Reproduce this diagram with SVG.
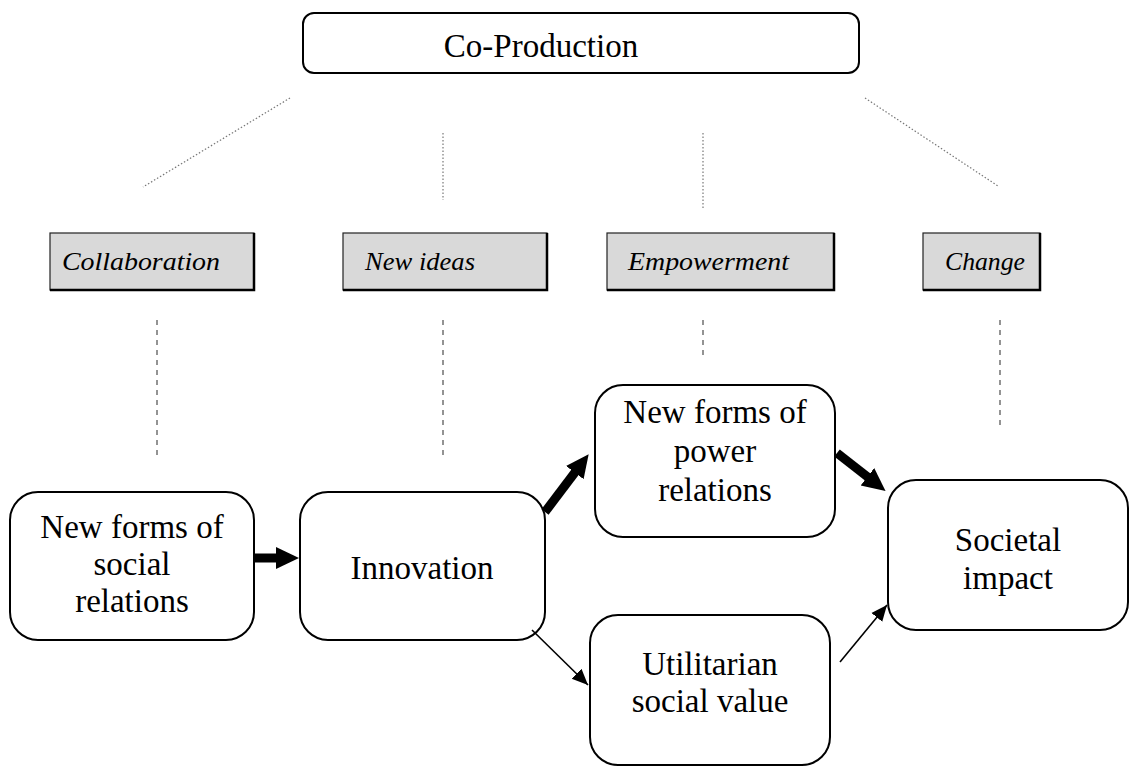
<svg xmlns="http://www.w3.org/2000/svg" width="1130" height="767" viewBox="0 0 1130 767">
<style>
.box{fill:#fff;stroke:#000;stroke-width:2}
.tag{fill:#d9d9d9;stroke:#222;stroke-width:1.2}
.shadow{fill:none;stroke:#000;stroke-width:2.5}
.big{font-family:"Liberation Serif","Times New Roman",serif;font-size:33px;fill:#000;text-anchor:middle}
.lbl{font-family:"Liberation Serif","Times New Roman",serif;font-style:italic;font-size:25px;fill:#000}
.dot{stroke:#777;stroke-width:1.2;stroke-dasharray:1.5 2;fill:none}
.dash{stroke:#888;stroke-width:1.8;stroke-dasharray:5 5;fill:none}
.thick{stroke:#000;stroke-width:9;fill:none}
.thin{stroke:#000;stroke-width:1.6;fill:none}
</style>
<defs>
<marker id="bigHead" markerUnits="userSpaceOnUse" markerWidth="26" markerHeight="26" refX="2" refY="12" orient="auto" viewBox="0 0 26 24">
<path d="M0,1 L23,12 L0,23 z" fill="#000"/>
</marker>
<marker id="smallHead" markerUnits="userSpaceOnUse" markerWidth="18" markerHeight="16" refX="16" refY="7" orient="auto" viewBox="0 0 18 14">
<path d="M0,0 L16,7 L0,14 z" fill="#000"/>
</marker>
</defs>

<g id="coproduction">
<rect class="box" x="303" y="13" width="556" height="60" rx="11"/>
<text class="big" x="541" y="57">Co-Production</text>
</g>

<g id="collaboration">
<rect class="tag" x="50" y="233" width="204" height="57"/>
<polyline class="shadow" points="254,233 254,290 50,290"/>
<text class="lbl" x="62" y="270" textLength="158" lengthAdjust="spacingAndGlyphs">Collaboration</text>
</g>
<g id="newideas">
<rect class="tag" x="343" y="233" width="204" height="57"/>
<polyline class="shadow" points="547,233 547,290 343,290"/>
<text class="lbl" x="365" y="270" textLength="110" lengthAdjust="spacingAndGlyphs">New ideas</text>
</g>
<g id="empowerment">
<rect class="tag" x="607" y="233" width="227" height="57"/>
<polyline class="shadow" points="834,233 834,290 607,290"/>
<text class="lbl" x="628" y="270" textLength="161" lengthAdjust="spacingAndGlyphs">Empowerment</text>
</g>
<g id="change">
<rect class="tag" x="923" y="233" width="117" height="57"/>
<polyline class="shadow" points="1040,233 1040,290 923,290"/>
<text class="lbl" x="945" y="270" textLength="80" lengthAdjust="spacingAndGlyphs">Change</text>
</g>

<g id="social">
<rect class="box" x="10" y="492" width="244" height="148" rx="28"/>
<text class="big" x="132" y="538">New forms of</text>
<text class="big" x="132" y="575">social</text>
<text class="big" x="132" y="612">relations</text>
</g>
<g id="innovation">
<rect class="box" x="300" y="492" width="245" height="148" rx="28"/>
<text class="big" x="422" y="579">Innovation</text>
</g>
<g id="power">
<rect class="box" x="595" y="385" width="240" height="152" rx="28"/>
<text class="big" x="715" y="423">New forms of</text>
<text class="big" x="715" y="462">power</text>
<text class="big" x="715" y="501">relations</text>
</g>
<g id="utilitarian">
<rect class="box" x="590" y="615" width="240" height="150" rx="28"/>
<text class="big" x="710" y="675">Utilitarian</text>
<text class="big" x="710" y="712">social value</text>
</g>
<g id="societal">
<rect class="box" x="888" y="480" width="240" height="150" rx="28"/>
<text class="big" x="1008" y="551">Societal</text>
<text class="big" x="1008" y="589">impact</text>
</g>

<g id="connectors">
<line class="dot" x1="290" y1="98" x2="143" y2="187"/>
<line class="dot" x1="443" y1="133" x2="443" y2="200"/>
<line class="dot" x1="703" y1="133" x2="703" y2="208"/>
<line class="dot" x1="865" y1="98" x2="998" y2="186"/>
<line class="dash" x1="157" y1="320" x2="157" y2="455"/>
<line class="dash" x1="443" y1="320" x2="443" y2="455"/>
<line class="dash" x1="703" y1="320" x2="703" y2="357"/>
<line class="dash" x1="1000" y1="320" x2="1000" y2="430"/>
<line class="thick" x1="254" y1="558" x2="278" y2="558" marker-end="url(#bigHead)"/>
<line class="thick" x1="545" y1="512" x2="576" y2="471" marker-end="url(#bigHead)"/>
<line class="thick" x1="837" y1="453" x2="869" y2="478" marker-end="url(#bigHead)"/>
<line class="thin" x1="532" y1="630" x2="588" y2="685" marker-end="url(#smallHead)"/>
<line class="thin" x1="840" y1="662" x2="887" y2="605" marker-end="url(#smallHead)"/>
</g>
</svg>
